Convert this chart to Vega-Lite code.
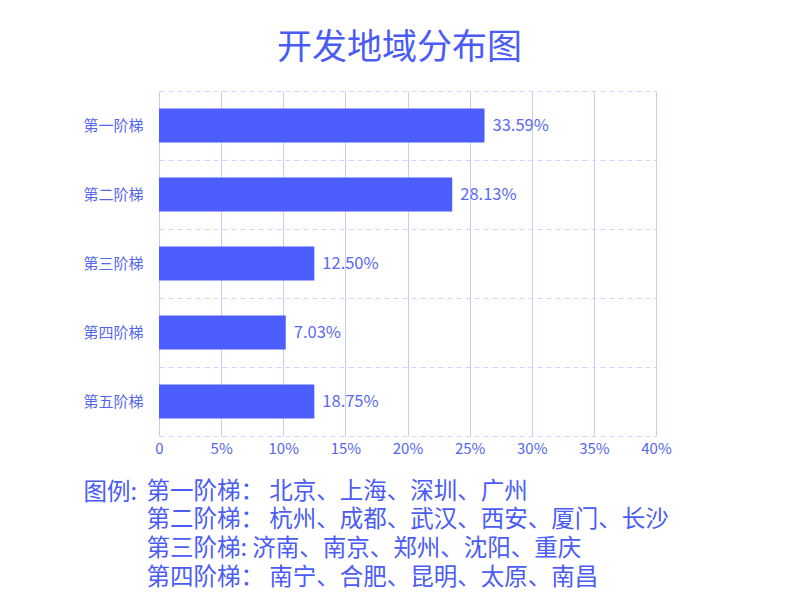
{
  "$schema": "https://vega.github.io/schema/vega-lite/v6.json",
  "autosize": "none",
  "padding": {"left": 159, "top": 91, "right": 144, "bottom": 164},
  "width": 497,
  "height": 345,
  "background": "#ffffff",
  "title": {
    "text": "开发地域分布图",
    "font": "Noto Sans CJK SC",
    "fontSize": 35,
    "fontWeight": "normal",
    "color": "#4a5cf5",
    "anchor": "middle",
    "dx": -8,
    "offset": 25
  },
  "data": {
    "values": [
      {"tier": "第一阶梯", "value": 26.2, "label": "33.59%"},
      {"tier": "第二阶梯", "value": 23.6, "label": "28.13%"},
      {"tier": "第三阶梯", "value": 12.5, "label": "12.50%"},
      {"tier": "第四阶梯", "value": 10.2, "label": "7.03%"},
      {"tier": "第五阶梯", "value": 12.5, "label": "18.75%"}
    ]
  },
  "encoding": {
    "y": {
      "field": "tier",
      "type": "nominal",
      "sort": null,
      "scale": {"paddingInner": 0, "paddingOuter": 0},
      "axis": {
        "domain": false,
        "ticks": false,
        "labelPadding": 16,
        "labelFont": "Noto Sans CJK SC",
        "labelFontSize": 15,
        "labelColor": "#5566ee",
        "grid": true,
        "bandPosition": 0,
        "gridColor": "#d0d4ff",
        "gridDash": [5, 4],
        "gridWidth": 1,
        "title": "图例:",
        "titleFont": "Noto Sans CJK SC",
        "titleFontSize": 23.5,
        "titleFontWeight": "normal",
        "titleColor": "#4a5cf5",
        "titleAngle": 0,
        "titleAnchor": null,
        "titleAlign": "left",
        "titleBaseline": "alphabetic",
        "titleX": -76,
        "titleY": 408,
        "titleLimit": 1000
      }
    },
    "x": {
      "field": "value",
      "type": "quantitative",
      "scale": {"domain": [0, 40], "nice": false},
      "axis": {
        "values": [0, 5, 10, 15, 20, 25, 30, 35, 40],
        "labelExpr": "datum.value == 0 ? '0' : datum.value + '%'",
        "ticks": false,
        "grid": true,
        "gridColor": "#c6cbff",
        "gridWidth": 1,
        "domain": true,
        "domainColor": "#d0d4ff",
        "domainDash": [5, 4],
        "labelPadding": 5,
        "labelFont": "Noto Sans CJK SC",
        "labelFontSize": 15,
        "labelColor": "#5566ee",
        "labelFlush": false,
        "title": [
          "第一阶梯：\u00a0北京、上海、深圳、广州",
          "第二阶梯：\u00a0杭州、成都、武汉、西安、厦门、长沙",
          "第三阶梯:\u00a0济南、南京、郑州、沈阳、重庆",
          "第四阶梯：\u00a0南宁、合肥、昆明、太原、南昌"
        ],
        "titleFont": "Noto Sans CJK SC",
        "titleFontSize": 23.5,
        "titleFontWeight": "normal",
        "titleColor": "#4a5cf5",
        "titleAnchor": "start",
        "titleAlign": "left",
        "titleBaseline": "alphabetic",
        "titleX": -13,
        "titleY": 62,
        "titleLineHeight": 28.7,
        "titleLimit": 1000
      }
    }
  },
  "layer": [
    {
      "mark": {"type": "bar", "size": 34, "color": "#4d5efe"}
    },
    {
      "mark": {
        "type": "text",
        "align": "left",
        "baseline": "middle",
        "dx": 8,
        "font": "Noto Sans CJK SC",
        "fontSize": 16.5,
        "color": "#5a6af0"
      },
      "encoding": {"text": {"field": "label"}}
    }
  ],
  "config": {"view": {"stroke": null}}
}
